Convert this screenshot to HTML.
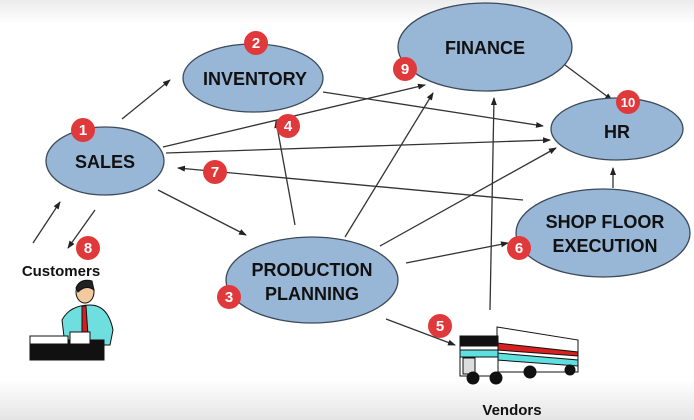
<!DOCTYPE html>
<html><head><style>
html,body{margin:0;padding:0;background:#fff}
svg{display:block}
text{font-family:"Liberation Sans",Arial,sans-serif;font-weight:bold}
</style></head><body>
<svg width="694" height="420" viewBox="0 0 694 420" xmlns="http://www.w3.org/2000/svg">
<defs>
<linearGradient id="tg" x1="0" y1="0" x2="0" y2="1"><stop offset="0" stop-color="#ececec"/><stop offset="1" stop-color="#fff"/></linearGradient>
<linearGradient id="bg" x1="0" y1="0" x2="0" y2="1"><stop offset="0" stop-color="#fff"/><stop offset="1" stop-color="#e4e4e4"/></linearGradient>
<marker id="a" markerWidth="8" markerHeight="8" refX="7" refY="4" orient="auto" markerUnits="userSpaceOnUse"><path d="M0,1 L8,4 L0,7 z" fill="#222"/></marker>
</defs>
<rect width="694" height="420" fill="#fff"/>
<rect width="694" height="24" fill="url(#tg)"/>
<rect y="380" width="694" height="40" fill="url(#bg)"/>
<g stroke="#333" stroke-width="1.3" fill="none" marker-end="url(#a)">
<line x1="122" y1="119" x2="170" y2="80"/>
<line x1="163" y1="147" x2="425" y2="85"/>
<line x1="166" y1="153" x2="550" y2="140"/>
<line x1="323" y1="92" x2="543" y2="126"/>
<line x1="158" y1="190" x2="246" y2="235"/>
<line x1="295" y1="225" x2="276" y2="121"/>
<line x1="345" y1="237" x2="433" y2="93"/>
<line x1="380" y1="246" x2="556" y2="148"/>
<line x1="406" y1="263" x2="508" y2="243"/>
<line x1="386" y1="319" x2="455" y2="345"/>
<line x1="490" y1="310" x2="494" y2="98"/>
<line x1="523" y1="200" x2="178" y2="168"/>
<line x1="613" y1="188" x2="613" y2="168"/>
<line x1="565" y1="65" x2="612" y2="100"/>
<line x1="33" y1="243" x2="60" y2="202"/>
<line x1="95" y1="210" x2="68" y2="248"/>
</g>
<g fill="#98b6d6" stroke="#3c4a5a" stroke-width="1.3">
<ellipse cx="105" cy="161" rx="59" ry="34"/>
<ellipse cx="253" cy="78" rx="70" ry="34"/>
<ellipse cx="485" cy="47" rx="87" ry="44"/>
<ellipse cx="617" cy="129" rx="66" ry="31"/>
<ellipse cx="603" cy="233" rx="87" ry="44"/>
<ellipse cx="312" cy="280" rx="86" ry="43"/>
</g>
<g fill="#111" font-size="18" text-anchor="middle">
<text x="105" y="168">SALES</text>
<text x="255" y="85">INVENTORY</text>
<text x="485" y="54">FINANCE</text>
<text x="617" y="138">HR</text>
<text x="605" y="228">SHOP FLOOR</text>
<text x="605" y="252">EXECUTION</text>
<text x="312" y="276">PRODUCTION</text>
<text x="312" y="300">PLANNING</text>
<text x="61" y="276" font-size="15">Customers</text>
<text x="512" y="415" font-size="15">Vendors</text>
</g>
<g fill="#e0393c">
<circle cx="83" cy="130" r="12"/><circle cx="256" cy="43" r="12"/><circle cx="229" cy="297" r="12"/>
<circle cx="288" cy="126" r="12"/><circle cx="440" cy="326" r="12"/><circle cx="519" cy="248" r="12"/>
<circle cx="215" cy="172" r="12"/><circle cx="88" cy="248" r="12"/><circle cx="405" cy="69" r="12"/>
<circle cx="628" cy="102" r="12"/>
</g>
<g fill="#fff" font-size="15" text-anchor="middle" style="font-weight:normal">
<text x="83" y="135">1</text><text x="256" y="48">2</text><text x="229" y="302">3</text>
<text x="288" y="131">4</text><text x="440" y="331">5</text><text x="519" y="253">6</text>
<text x="215" y="177">7</text><text x="88" y="253">8</text><text x="405" y="74">9</text>
<text x="628" y="107" font-size="13">10</text>
</g>
<g stroke="#111" stroke-width="1">
<path d="M62,320 Q70,305 90,305 Q108,305 113,330 L110,345 L65,345 Z" fill="#6fdede"/>
<path d="M82,306 L86,306 L88,335 L82,335 Z" fill="#d02020"/>
<ellipse cx="85" cy="292" rx="9" ry="11" fill="#f3c9a0"/>
<path d="M76,288 Q80,278 92,281 L94,290 Q86,284 78,292 Z" fill="#222"/>
<rect x="30" y="340" width="74" height="20" fill="#111"/>
<rect x="30" y="336" width="38" height="8" fill="#fff"/>
<rect x="70" y="332" width="20" height="12" fill="#fff"/>
</g>
<g stroke="#111" stroke-width="1">
<path d="M497,327 L578,340 L578,372 L497,372 Z" fill="#fff"/>
<path d="M497,343 L578,352 L578,356 L497,350 Z" fill="#d92020"/>
<path d="M497,353 L578,360 L578,366 L497,360 Z" fill="#5fe0e0"/>
<rect x="460" y="336" width="38" height="40" fill="#fff"/>
<rect x="460" y="336" width="38" height="10" fill="#111"/>
<rect x="460" y="350" width="38" height="7" fill="#5fe0e0"/>
<rect x="463" y="358" width="12" height="16" fill="#ddd"/>
<circle cx="473" cy="378" r="6" fill="#111"/><circle cx="496" cy="378" r="6" fill="#111"/><circle cx="530" cy="372" r="6" fill="#111"/><circle cx="570" cy="370" r="5" fill="#111"/>
</g>
</svg>
</body></html>
